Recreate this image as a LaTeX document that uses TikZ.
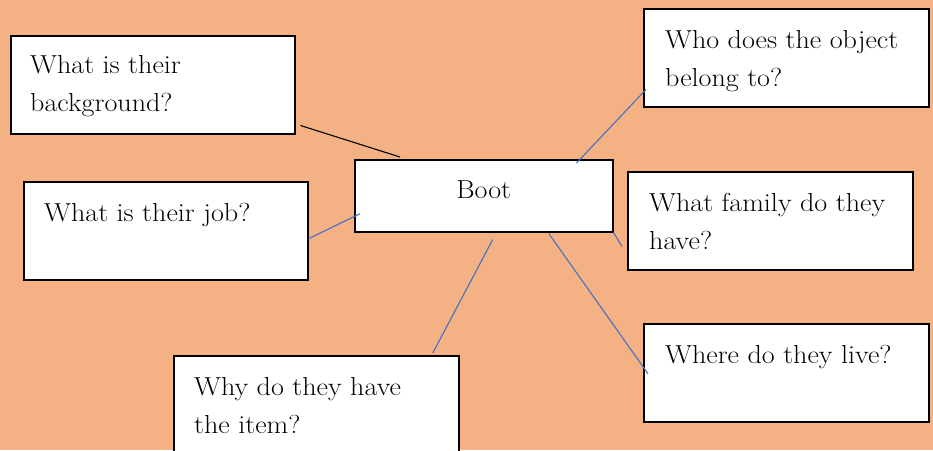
\documentclass[tikz,border=0pt]{standalone}
\usepackage{fontspec}
\setmainfont[FakeStretch=1.08]{Latin Modern Roman}
\usetikzlibrary{calc}
\definecolor{bgorange}{HTML}{F4B183}
\definecolor{linkblue}{HTML}{4472C4}
\tikzset{
  qbox/.style={draw=black, line width=1.5pt, fill=white, rectangle, inner sep=0pt,
    minimum width=285pt, minimum height=98pt, anchor=north west},
  qtext/.style={anchor=north west, inner sep=0pt, align=left,
    font=\fontsize{26}{38.5}\selectfont},
  bluelink/.style={draw=linkblue, line width=1.1pt},
  blacklink/.style={draw=black, line width=1.1pt},
}
\begin{document}
\begin{tikzpicture}[x=1pt, y=-1pt]
\fill[bgorange] (0,0) rectangle (933,450);
\useasboundingbox (0,0) rectangle (933,450);
\clip (0,0) rectangle (933,450);
% boxes
\node[qbox, minimum width=284pt] (bg) at (10,35) {};
\node[qbox, minimum width=284pt] (job) at (23,181) {};
\node[qbox, minimum width=258pt, minimum height=72pt] (boot) at (354,159) {};
\node[qbox] (who) at (643,8) {};
\node[qbox] (fam) at (627,171) {};
\node[qbox] (live) at (643,323) {};
\node[qbox] (why) at (173,355) {};
% texts
\node[qtext] (tbg) at ($(bg.north west)+(20,20)$) {What is their\\background?};
\node[qtext] (tjob) at ($(job.north west)+(21,22)$) {What is their job?};
\node[qtext, anchor=north] (tboot) at ($(boot.north)+(0,22)$) {Boot};
\node[qtext] (twho) at ($(who.north west)+(22,22)$) {Who does the object\\belong to?};
\node[qtext] (tfam) at ($(fam.north west)+(22,22)$) {What family do they\\have?};
\node[qtext] (tlive) at ($(live.north west)+(22,22)$) {Where do they live?};
\node[qtext] (twhy) at ($(why.north west)+(21,22)$) {Why do they have\\the item?};
% connectors
\draw[blacklink] ($(bg.south east)+(5,-9)$) -- ($(boot.north west)+(46,-2)$);
\draw[bluelink] ($(job.east)+(0,8)$) -- ($(boot.west)+(6,18)$);
\draw[bluelink] ($(boot.north east)+(-37,4)$) -- ($(who.south west)+(3,-18)$);
\draw[bluelink] ($(boot.south)+(9,7)$) -- ($(why.north)+(116.5,-2)$);
\draw[bluelink] ($(boot.south)+(65,1)$) -- ($(live.west)+(5,1)$);
\draw[bluelink] (boot.south east) -- ($(fam.south west)+(-5,-24)$);
\end{tikzpicture}
\end{document}
